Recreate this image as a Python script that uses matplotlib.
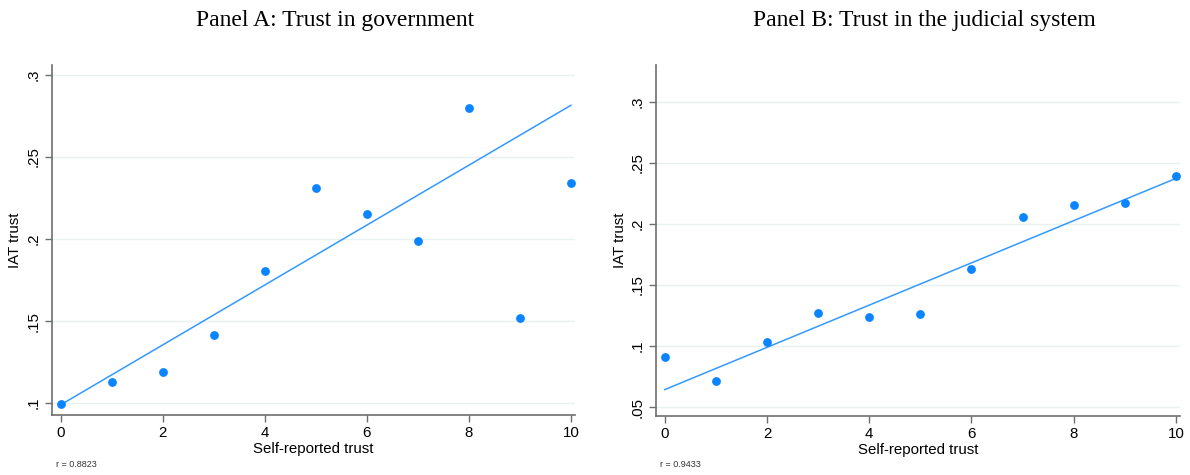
import numpy as np
import matplotlib.pyplot as plt

# self-reported trust bins
trust_levels = np.arange(0, 11)

# Panel A: trust in government
iat_gov = [0.0996, 0.1132, 0.1189, 0.1415, 0.1807, 0.2311, 0.2150, 0.1986, 0.2797, 0.1518, 0.2343]
fit_gov = [0.0990, 0.2815]  # fitted line at x=0 and x=10
r_gov = 0.8823

# Panel B: trust in the judicial system
iat_jud = [0.0908, 0.0716, 0.1036, 0.1270, 0.1236, 0.1262, 0.1627, 0.2057, 0.2158, 0.2170, 0.2390]
fit_jud = [0.0643, 0.2372]
r_jud = 0.9433

dot_color = '#0a84ff'
line_color = '#3399ff'
grid_color = '#e9f1f3'
spine_color = '#6e6e6e'

plt.rcParams['font.family'] = ['Liberation Sans', 'DejaVu Sans']

fig = plt.figure(figsize=(11.9, 4.75), dpi=100)
ax_a = fig.add_axes([0.0437, 0.126, 0.4395, 0.737])
ax_b = fig.add_axes([0.5513, 0.124, 0.4403, 0.739])


def draw_panel(ax, y, fit, r, title, title_x, yticks, ylim, ylab_x):
    ax.scatter(trust_levels, y, s=40, color=dot_color, zorder=3, linewidths=0)
    ax.plot([0, 10], fit, color=line_color, lw=1.1, zorder=2)
    ax.set_xlim(-0.17, 10.08)
    ax.set_ylim(*ylim)
    ax.set_xticks([0, 2, 4, 6, 8, 10])
    ax.set_yticks(yticks)
    ax.set_yticklabels([('%g' % t).lstrip('0') for t in yticks], rotation=90, va='center')
    ax.grid(axis='y', color=grid_color, lw=1)
    ax.set_axisbelow(True)
    for side in ['top', 'right']:
        ax.spines[side].set_visible(False)
    for side in ['left', 'bottom']:
        ax.spines[side].set_color(spine_color)
        ax.spines[side].set_linewidth(1.2)
    ax.tick_params(axis='both', direction='out', length=5, width=1, color=spine_color,
                   labelsize=10.8, pad=3)
    ax.set_xlabel('Self-reported trust', fontsize=10.8, labelpad=1)
    ax.set_ylabel('IAT trust', fontsize=10.8)
    ax.yaxis.set_label_coords(ylab_x, 0.5)
    fig.text(ax.get_position().x0 + 0.003, 0.016, 'r = %.4f' % r, fontsize=6.5, color='#333333')
    fig.text(title_x, 0.957, title, family='Liberation Serif', fontsize=17,
             ha='center', va='center')


draw_panel(ax_a, iat_gov, fit_gov, r_gov, 'Panel A: Trust in government', 0.2815,
           [0.1, 0.15, 0.2, 0.25, 0.3], (0.0927, 0.306), -0.057)
draw_panel(ax_b, iat_jud, fit_jud, r_jud, 'Panel B: Trust in the judicial system', 0.777,
           [0.05, 0.1, 0.15, 0.2, 0.25, 0.3], (0.0426, 0.330), -0.055)

fig.savefig('out.png', dpi=100)
